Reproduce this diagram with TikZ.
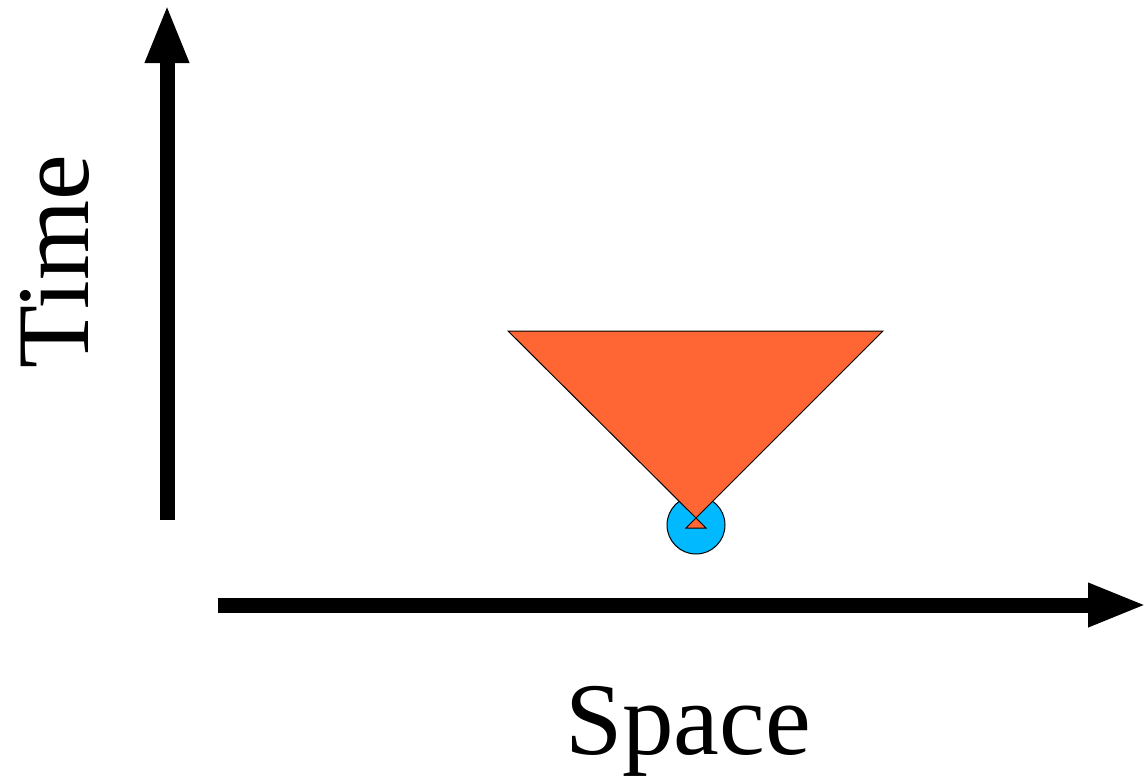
\documentclass[tikz,border=0pt]{standalone}
\usepackage{fontspec}
\setmainfont{Liberation Serif}
\usetikzlibrary{arrows.meta}
\definecolor{cone}{RGB}{255,102,51}
\definecolor{event}{RGB}{0,185,255}
\begin{document}
\begin{tikzpicture}[x=1pt,y=-1pt,
  axis/.style={line width=15pt,-{Triangle[width=40pt,length=59pt]}},
  shape line/.style={draw=black,line width=1pt},
  label/.style={inner sep=0pt,font=\fontsize{103}{103}\selectfont}]
\useasboundingbox (0,0) rectangle (1145,779);
% axes
\coordinate (t0) at (167,520);
\coordinate (t1) at (167,4);
\coordinate (s0) at (218,605);
\coordinate (s1) at (1147,605);
\draw[axis] (t0) -- (t1);
\draw[axis] (s0) -- (s1);
% event
\node[circle,fill=event,shape line,minimum size=58pt,inner sep=0pt] (ev) at (696,525) {};
% future cone
\coordinate (a) at (508,331);
\coordinate (b) at (883,331);
\coordinate (c) at (696,518);
\filldraw[fill=cone,shape line,line join=miter] (a) -- (b) -- (c) -- cycle;
\coordinate (d) at (686,528);
\coordinate (e) at (706,528);
\filldraw[fill=cone,shape line] (c) -- (d) -- (e) -- cycle;
% labels
\node[label,rotate=90] (time) at (55,262) {Time};
\node[label,anchor=base] (space) at (688,754) {Space};
\end{tikzpicture}
\end{document}
